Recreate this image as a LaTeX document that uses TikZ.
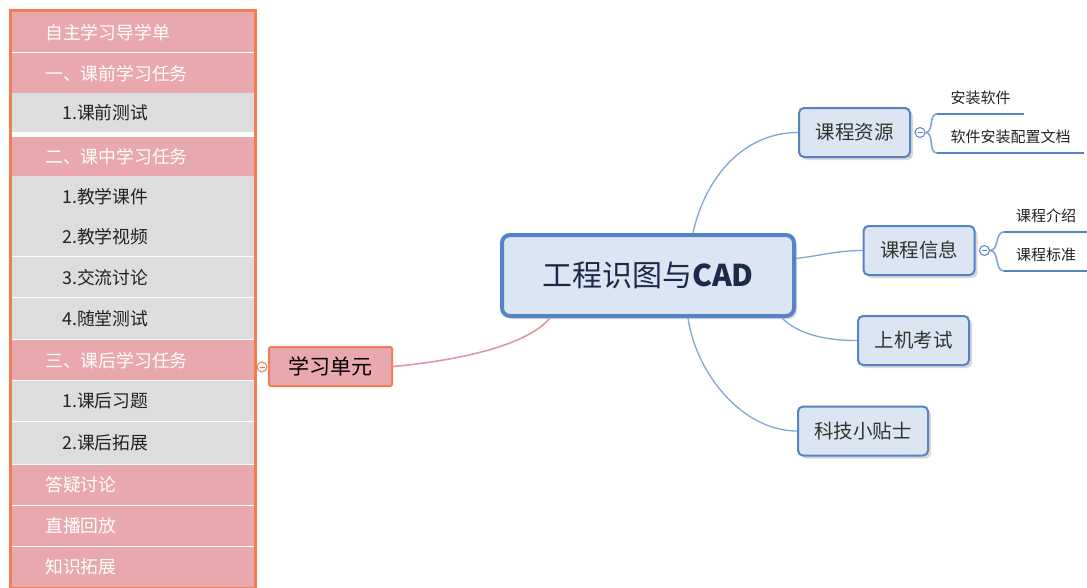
\documentclass[tikz,border=0pt]{standalone}
\usepackage{fontspec}
\setmainfont{Noto Sans CJK SC}
\usetikzlibrary{positioning,fit,shadows}

\definecolor{panelorange}{RGB}{240,126,82}
\definecolor{rowpink}{RGB}{233,168,173}
\definecolor{rowgray}{RGB}{221,221,221}
\definecolor{rowtext}{RGB}{34,34,34}
\definecolor{topicblue}{RGB}{84,132,199}
\definecolor{topicfill}{RGB}{220,230,242}
\definecolor{topictext}{RGB}{51,51,51}
\definecolor{centertext}{RGB}{27,42,74}
\definecolor{linkblue}{RGB}{128,166,214}
\definecolor{linkpink}{RGB}{224,150,158}

\begin{document}
\begin{tikzpicture}[
    x=1pt, y=-1pt,
    row/.style={rectangle, anchor=north west, inner xsep=0pt, inner ysep=0pt, text width=242pt, align=left, font=\fontsize{17.8}{20}\selectfont},
    pinkrow/.style={row, fill=rowpink, text=white},
    grayrow/.style={row, fill=rowgray, text=rowtext},
    unit/.style={rectangle, draw=panelorange, line width=2pt, fill=rowpink, rounded corners=1.5pt, minimum width=123pt, minimum height=39pt, font=\fontsize{21}{25}\selectfont},
    central/.style={rectangle, draw=topicblue, line width=4pt, fill=topicfill, rounded corners=8pt, minimum width=292pt, minimum height=81pt, text=centertext, font=\fontsize{30}{35}\selectfont, drop shadow={shadow xshift=3pt, shadow yshift=-3pt, opacity=0.15, fill=black}},
    topic/.style={rectangle, draw=topicblue, line width=2pt, fill=topicfill, rounded corners=5pt, minimum width=111pt, minimum height=49pt, text=topictext, font=\fontsize{19.5}{23}\selectfont, drop shadow={shadow xshift=3pt, shadow yshift=-3pt, opacity=0.15, fill=black}},
    collapse/.style={circle, draw, fill=white, inner sep=0pt, minimum size=10pt, line width=1pt,
        path picture={\draw[line width=0.7pt] ([xshift=2.5pt]path picture bounding box.west) -- ([xshift=-2.5pt]path picture bounding box.east);}},
    leaf/.style={rectangle, anchor=south west, inner sep=0pt, minimum height=32pt, text=rowtext, font=\fontsize{15}{18}\selectfont},
    leafline/.style={draw=topicblue, line width=2pt},
    link/.style={draw=linkblue, line width=1.3pt},
    pinklink/.style={draw=linkpink, line width=1.6pt}
]
\useasboundingbox (0,0) rectangle (1087,587);

% Study guide panel (left side)
\foreach \i/\ry/\rh/\kind/\ind/\txt in {
    1/12/40/pinkrow/33/自主学习导学单,
    2/53/40/pinkrow/33/一、课前学习任务,
    3/93/39/grayrow/50/1.课前测试,
    4/137/39/pinkrow/33/二、课中学习任务,
    5/176/40/grayrow/50/1.教学课件,
    6/216/40/grayrow/50/2.教学视频,
    7/257/40/grayrow/50/3.交流讨论,
    8/298/41/grayrow/50/4.随堂测试,
    9/340/40/pinkrow/33/三、课后学习任务,
    10/381/40/grayrow/50/1.课后习题,
    11/422/42/grayrow/50/2.课后拓展,
    12/465/40/pinkrow/33/答疑讨论,
    13/506/40/pinkrow/33/直播回放,
    14/547/40/pinkrow/33/知识拓展} {
    \node[\kind, minimum height=\rh] (row\i) at (12,\ry) {\hspace*{\ind pt}\txt};
}
\node[fit=(row1)(row14), draw=panelorange, line width=3pt, inner sep=1.5pt] (panel) {};

% Study unit
\node[unit] (unit) at (330.5,366.5) {学习单元};
\node[collapse, draw=panelorange] (unit-dot) at (262,367) {};

% Central topic
\node[central] (cad) at (648,275.5) {工程识图与\textbf{CAD}};

% Main topics (right side)
\node[topic] (res) at (854.5,132.5) {课程资源};
\node[topic] (info) at (919,250.5) {课程信息};
\node[topic] (exam) at (913.5,340.5) {上机考试};
\node[topic, minimum width=130pt] (tips) at (863,431) {科技小贴士};

% Subtopics
\node[collapse, draw=topicblue] (res-dot) at ([xshift=9pt]res.east) {};
\node[leaf, minimum width=87pt] (res-a) at (937,114) {安装软件};
\node[leaf, minimum width=147pt] (res-b) at (937,153) {软件安装配置文档};
\node[collapse, draw=topicblue] (info-dot) at ([xshift=9pt]info.east) {};
\node[leaf, minimum width=84pt] (info-a) at (1004,232) {课程介绍};
\node[leaf, minimum width=84pt] (info-b) at (1004,271) {课程标准};

\foreach \n in {res-a,res-b,info-a,info-b} {
    \draw[leafline] (\n.south west) -- (\n.south east);
}

% Connectors
\draw[pinklink] (unit.east) .. controls +(55,-5) and +(-25,30) .. ([xshift=50pt]cad.south west);
\draw[link] ([xshift=45pt]cad.north) .. controls +(12,-55) and +(-55,0) .. (res.west);
\draw[link] ([yshift=17pt]cad.east) .. controls +(25,-3) and +(-25,0) .. (info.west);
\draw[link] ([xshift=-14pt]cad.south east) .. controls +(15,15) and +(-35,0) .. (exam.west);
\draw[link] ([xshift=40pt]cad.south) .. controls +(8,55) and +(-55,0) .. (tips.west);

\draw[link, line width=1.6pt] (res-dot.east) to[out=0, in=180] (res-a.south west);
\draw[link, line width=1.6pt] (res-dot.east) to[out=0, in=180] (res-b.south west);
\draw[link, line width=1.6pt] (info-dot.east) to[out=0, in=180] (info-a.south west);
\draw[link, line width=1.6pt] (info-dot.east) to[out=0, in=180] (info-b.south west);

\end{tikzpicture}
\end{document}
